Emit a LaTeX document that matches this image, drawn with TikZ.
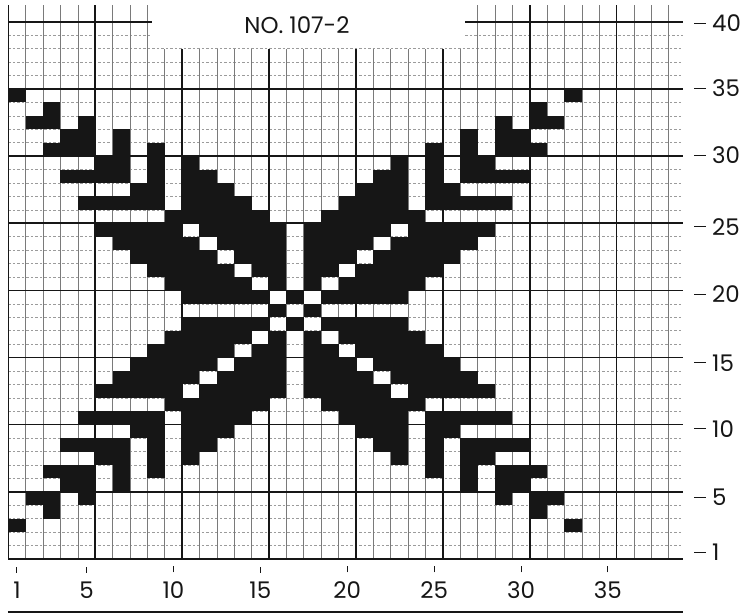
\documentclass[tikz,border=0pt]{standalone}
\usepackage{fontspec}
\setmainfont{Poppins}
\usetikzlibrary{positioning}
\definecolor{chInk}{HTML}{161616}
\definecolor{chRule}{HTML}{7A7A7A}

\begin{document}
\begin{tikzpicture}[
  x=17.38bp, y=13.43bp,
  font=\fontsize{23}{26}\selectfont,
  major/.style={draw=chInk,line width=1.6bp},
  minorv/.style={draw=chRule,line width=0.6bp},
  minorh/.style={draw=chRule!75,line width=0.55bp,dash pattern=on 2.5bp off 2bp},
  cell/.style={fill=chInk},
  tick/.style={draw=chInk,line width=1bp},
  num/.style={inner sep=0pt,text=chInk}
]
\useasboundingbox (-0.4776,-4.095) rectangle (42.445,41.623);
\def\xl{8.27}
\def\xr{26.28}
\def\xe{38.82}
\def\yt{41.25}
% fine rules
\foreach \j in {1,...,38}
  \draw[minorh] (0,\j) -- (\xe,\j);
\foreach \j in {39,40}{
  \draw[minorh] (0,\j) -- (\xl,\j);
  \draw[minorh] (\xr,\j) -- (\xe,\j);
}
\foreach \i in {1,...,38}{
  \pgfmathsetmacro\ytop{(\i<9 || \i>26) ? \yt : 38}
  \draw[minorv] (\i,0) -- (\i,\ytop);
}
% every fifth rule
\foreach \j in {0,5,...,35}
  \draw[major] (0,\j) -- (\xe,\j);
\draw[major] (0,40) -- (\xl,40);
\draw[major] (\xr,40) -- (\xe,40);
\foreach \i in {0,5,...,35}{
  \pgfmathsetmacro\ytop{(\i<9 || \i>26) ? \yt : 38}
  \draw[major] (\i,0) -- (\i,\ytop);
}
% one quarter of the motif, mirrored both ways
\foreach \r/\runs in {
  35/{1/1},
  34/{3/3},
  33/{2/3,5/5},
  32/{4/5,7/7},
  31/{3/5,7/7,9/9},
  30/{6/7,9/9,11/11},
  29/{4/7,9/9,11/12},
  28/{8/9,11/13},
  27/{5/9,11/14},
  26/{10/15},
  25/{6/10,12/16},
  24/{7/11,13/16},
  23/{8/12,14/16},
  22/{9/13,15/16},
  21/{10/14,16/16},
  20/{11/15,17/17},
  19/{16/16}}
{
  \foreach \a/\b in \runs {
    \fill[cell] (\a-1,\r-1) rectangle (\b,\r);
    \fill[cell] (33-\b,\r-1) rectangle (34-\a,\r);
    \fill[cell] (\a-1,37-\r) rectangle (\b,38-\r);
    \fill[cell] (33-\b,37-\r) rectangle (34-\a,38-\r);
  }
}
% title in the gap
\node[num] (title) at (16.61,39.76) {NO. 107-2};
% row numbers
\foreach \v/\y in {40/39.9,35/35.05,30/30.05,25/24.75,20/19.7,15/14.6,10/9.7,5/4.6,1/0.5}{
  \node[num,anchor=west] (row\v) at (40.49,\y) {\v};
  \draw[tick] (row\v.west) ++(-18bp,0) -- ++(12bp,0);
}
% column numbers
\foreach \v in {1,5,10,15,20,25,30,35}{
  \node[num] (col\v) at (\v-0.5,-2.31) {\v};
  \draw[tick] ([yshift=9bp]col\v.north) -- ++(0,6bp);
}
\draw[chInk,line width=1.6bp] (-0.02,-3.95) -- (\xe,-3.95);
\end{tikzpicture}
\end{document}
